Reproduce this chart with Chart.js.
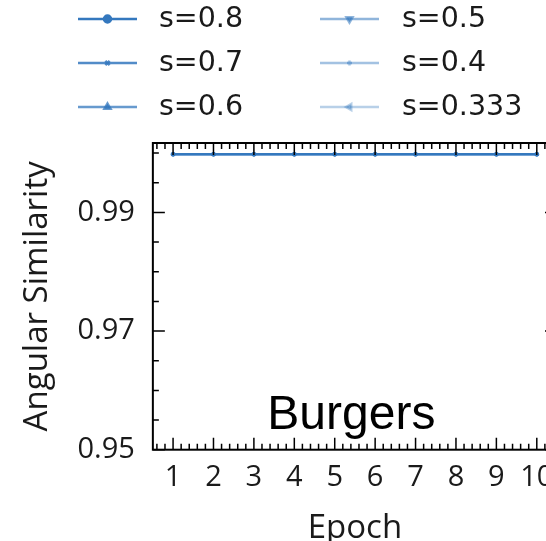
<!DOCTYPE html>
<html lang="en">
<head>
<meta charset="UTF-8">
<title>Burgers - Angular Similarity</title>
<script src="https://cdn.jsdelivr.net/npm/chart.js"></script>
<style>
  html, body { margin: 0; padding: 0; background: #fff; overflow: hidden; }
  #wrap { width: 546px; height: 541px; overflow: hidden; }
</style>
</head>
<body>
<div id="wrap"><canvas id="simChart" width="600" height="552"></canvas></div>
<script>
// data: every run sits right at ~1.0
const epochs = [1, 2, 3, 4, 5, 6, 7, 8, 9, 10];
const seriesNames = ['s=0.8', 's=0.7', 's=0.6', 's=0.5', 's=0.4', 's=0.333'];
const s08 = [0.9998, 0.9998, 0.9998, 0.9998, 0.9998, 0.9998, 0.9998, 0.9998, 0.9998, 0.9998];
const s07 = [0.9998, 0.9998, 0.9998, 0.9998, 0.9998, 0.9998, 0.9998, 0.9998, 0.9998, 0.9998];
const s06 = [0.9998, 0.9998, 0.9998, 0.9998, 0.9998, 0.9998, 0.9998, 0.9998, 0.9998, 0.9998];
const s05 = [0.9998, 0.9998, 0.9998, 0.9998, 0.9998, 0.9998, 0.9998, 0.9998, 0.9998, 0.9998];
const s04 = [0.9998, 0.9998, 0.9998, 0.9998, 0.9998, 0.9998, 0.9998, 0.9998, 0.9998, 0.9998];
const s0333 = [0.9998, 0.9998, 0.9998, 0.9998, 0.9998, 0.9998, 0.9998, 0.9998, 0.9998, 0.9998];
const yTickLabels = [0.95, 0.97, 0.99];
const xTickLabels = epochs;

// styles
const seriesValues = [s08, s07, s06, s05, s04, s0333];
const alphas = [1.0, 0.85, 0.75, 0.55, 0.45, 0.35];
const markers = ['circle', 'crossRot', 'triangle', 'triangle', 'cross', 'triangle'];
const markerRot = [0, 0, 0, 180, 0, 270];
const markerSize = [3.5, 3, 3.5, 3.5, 2.5, 3.5];

function blue(a) { return 'rgba(52, 120, 190, ' + a + ')'; }

const datasets = seriesNames.map(function (name, i) {
  return {
    label: name,
    data: epochs.map(function (e, j) { return { x: e, y: seriesValues[i][j] }; }),
    borderColor: blue(alphas[i]),
    backgroundColor: blue(alphas[i]),
    borderWidth: 2,
    pointStyle: markers[i],
    pointRotation: markerRot[i],
    pointRadius: 2,
    pointBorderWidth: 1,
    fill: false,
    tension: 0
  };
});

// frame, inward ticks, legend and panel title
const decor = {
  id: 'decor',
  afterDraw(chart) {
    const ctx = chart.ctx;
    const a = chart.chartArea;
    const xs = chart.scales.x, ys = chart.scales.y;
    ctx.save();
    ctx.strokeStyle = '#000';
    ctx.lineWidth = 2;
    ctx.strokeRect(a.left, a.top, a.right - a.left, a.bottom - a.top);

    ctx.lineWidth = 1.5;
    ctx.beginPath();
    for (let k = 3; k <= 52; k++) {
      const v = k / 5;
      if (v <= xs.min || v >= xs.max) continue;
      const px = xs.getPixelForValue(v);
      const len = (k % 5 === 0) ? 12 : 6;
      ctx.moveTo(px, a.bottom); ctx.lineTo(px, a.bottom - len);
      ctx.moveTo(px, a.top); ctx.lineTo(px, a.top + len);
    }
    for (let k = 190; k <= 201; k++) {
      const v = k / 200;
      if (v < ys.min || v > ys.max) continue;
      const py = ys.getPixelForValue(v);
      const major = yTickLabels.some(function (t) { return Math.abs(t - v) < 1e-6; });
      const len = major ? 12 : 6;
      ctx.moveTo(a.left, py); ctx.lineTo(a.left + len, py);
      ctx.moveTo(a.right, py); ctx.lineTo(a.right - len, py);
    }
    ctx.stroke();

    // legend, two columns
    const cols = [{ x0: 78, tx: 159 }, { x0: 320, tx: 402 }];
    const rows = [19, 63, 107];
    ctx.font = '28.5px "DejaVu Sans"';
    ctx.textBaseline = 'middle';
    ctx.textAlign = 'left';
    chart.data.datasets.forEach(function (ds, i) {
      const c = cols[Math.floor(i / 3)];
      const y = rows[i % 3];
      ctx.strokeStyle = ds.borderColor;
      ctx.fillStyle = ds.borderColor;
      ctx.lineWidth = 2.5;
      ctx.beginPath();
      ctx.moveTo(c.x0, y); ctx.lineTo(c.x0 + 59, y);
      ctx.stroke();
      if (Chart.helpers && Chart.helpers.drawPoint) {
        Chart.helpers.drawPoint(ctx, {
          pointStyle: ds.pointStyle, rotation: ds.pointRotation,
          radius: markerSize[i], borderWidth: 1.5
        }, c.x0 + 29.5, y);
      }
      ctx.fillStyle = '#1a1a1a';
      ctx.fillText(ds.label, c.tx, y + 1);
    });

    ctx.fillStyle = '#000';
    ctx.font = '48px "Liberation Sans"';
    ctx.textAlign = 'center';
    ctx.textBaseline = 'alphabetic';
    ctx.fillText('Burgers', a.left + 198.5, a.bottom - 21);
    ctx.restore();
  }
};

const ctx = document.getElementById('simChart').getContext('2d');
const simChart = new Chart(ctx, {
  type: 'line',
  data: { datasets: datasets },
  plugins: [decor],
  options: {
    responsive: false,
    animation: false,
    layout: { padding: { top: 143, left: 21.5, right: 43, bottom: 7 } },
    plugins: { legend: { display: false }, tooltip: { enabled: false } },
    scales: {
      x: {
        type: 'linear',
        min: 0.5,
        max: 10.5,
        afterBuildTicks: function (axis) { axis.ticks = xTickLabels.map(function (v) { return { value: v }; }); },
        grid: { display: false, drawTicks: false, tickLength: 0 },
        border: { display: false },
        ticks: { color: '#1a1a1a', padding: 11, maxRotation: 0, autoSkip: false,
                 font: { family: 'Open Sans', size: 29 } },
        title: { display: true, text: 'Epoch', color: '#1a1a1a', padding: { top: 5.5, bottom: 0 },
                 font: { family: 'Open Sans', size: 33, lineHeight: 1.0 } }
      },
      y: {
        min: 0.95,
        max: 1.0017,
        afterBuildTicks: function (axis) { axis.ticks = yTickLabels.map(function (v) { return { value: v }; }); },
        grid: { display: false, drawTicks: false, tickLength: 0 },
        border: { display: false },
        ticks: { color: '#1a1a1a', padding: 18,
                 font: { family: 'Open Sans', size: 29 },
                 callback: function (v) { return v.toFixed(2); } },
        title: { display: true, text: 'Angular Similarity', color: '#1a1a1a', padding: { top: 0, bottom: 5 },
                 font: { family: 'Open Sans', size: 33, lineHeight: 1.0 } }
      }
    }
  }
});
</script>
</body>
</html>
